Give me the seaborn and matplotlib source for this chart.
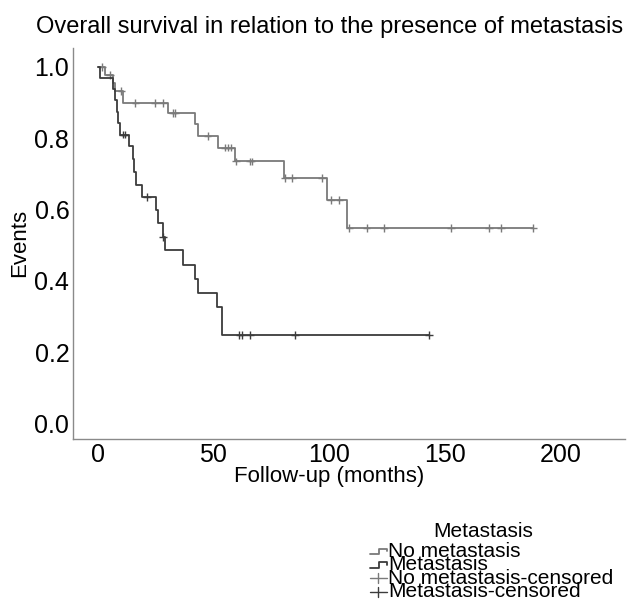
import numpy as np
import pandas as pd
import matplotlib
matplotlib.use("Agg")
import matplotlib.pyplot as plt
import seaborn as sns
from matplotlib.lines import Line2D

# Kaplan-Meier steps (months, survival)
nomet_time = [0, 3.3, 6.5, 7.3, 10.9, 30.2, 42.0, 43.5, 51.8, 59.3, 80.6, 98.9, 107.8, 188.2]
nomet_surv = [1.0, 0.978, 0.956, 0.933, 0.899, 0.870, 0.839, 0.807, 0.774, 0.735, 0.688, 0.627, 0.549, 0.549]

met_time = [0, 1.1, 6.4, 7.5, 8.3, 8.9, 9.6, 13.7, 15.1, 15.8, 16.5, 19.0, 25.2, 26.2,
            28.1, 29.2, 37.0, 42.0, 43.2, 51.7, 53.9, 143.2]
met_surv = [1.0, 0.969, 0.937, 0.906, 0.874, 0.843, 0.810, 0.777, 0.741, 0.705, 0.669, 0.636,
            0.599, 0.562, 0.524, 0.487, 0.445, 0.406, 0.367, 0.326, 0.249, 0.249]

# censored observations
nomet_cens_time = [1.9, 5.4, 10.2, 16.3, 24.8, 28.2, 32.4, 33.3, 47.5, 55.0, 56.2, 57.6,
                   59.7, 65.8, 66.5, 80.8, 84.0, 96.9, 100.8, 104.4, 108.7, 116.2, 123.7,
                   152.6, 169.0, 174.2, 188.2]
nomet_cens_surv = [1.0, 0.978, 0.933, 0.899, 0.899, 0.899, 0.870, 0.870, 0.807, 0.774, 0.774, 0.774,
                   0.735, 0.735, 0.735, 0.688, 0.688, 0.688, 0.627, 0.627, 0.549, 0.549, 0.549,
                   0.549, 0.549, 0.549, 0.549]

met_cens_time = [10.8, 11.8, 21.4, 28.3, 61.2, 62.5, 65.8, 85.2, 143.2]
met_cens_surv = [0.810, 0.810, 0.636, 0.524, 0.249, 0.249, 0.249, 0.249, 0.249]

groups = ["No metastasis", "Metastasis"]
colors = {"No metastasis": "#7a7a7a", "Metastasis": "#3c3c3c"}
legend_labels = ["No metastasis", "Metastasis", "No metastasis-censored", "Metastasis-censored"]

curves = pd.concat([
    pd.DataFrame({"time": nomet_time, "surv": nomet_surv, "group": groups[0]}),
    pd.DataFrame({"time": met_time, "surv": met_surv, "group": groups[1]}),
])
cens = pd.concat([
    pd.DataFrame({"time": nomet_cens_time, "surv": nomet_cens_surv, "group": groups[0]}),
    pd.DataFrame({"time": met_cens_time, "surv": met_cens_surv, "group": groups[1]}),
])

sns.set_theme(style="white")
plt.rcParams["font.family"] = ["Liberation Sans", "DejaVu Sans"]
for key in ["text.color", "axes.labelcolor", "xtick.color", "ytick.color"]:
    plt.rcParams[key] = "black"

W, H = 627, 610
fig = plt.figure(figsize=(W / 100, H / 100), dpi=100)
ax = fig.add_axes([0.116, 0.2811, 0.8808, 0.6397])

sns.lineplot(data=curves, x="time", y="surv", hue="group", palette=colors,
             estimator=None, sort=False, drawstyle="steps-post", linewidth=1.3,
             legend=False, ax=ax)
sns.scatterplot(data=cens, x="time", y="surv", hue="group", palette=colors,
                marker="+", s=30, linewidth=1.0, legend=False, ax=ax)

ax.set_xlim(-10.8, 227.8)
ax.set_ylim(-0.0415, 1.052)
ax.set_xticks([0, 50, 100, 150, 200])
ax.set_yticks([0.0, 0.2, 0.4, 0.6, 0.8, 1.0])
ax.set_yticklabels(["0.0", "0.2", "0.4", "0.6", "0.8", "1.0"])
ax.tick_params(length=0, labelsize=18)
ax.tick_params(axis="y", pad=2.5)
ax.tick_params(axis="x", pad=3)

sns.despine(ax=ax)
for side in ["left", "bottom"]:
    ax.spines[side].set_color("#8a8a8a")
    ax.spines[side].set_linewidth(1.0)

ax.set_xlabel("Follow-up (months)", fontsize=16)
ax.set_ylabel("Events", fontsize=16)
ax.xaxis.set_label_coords(0.464, -0.071)
ax.yaxis.set_label_coords(-0.077, 0.5)

fig.text(0.5255, 1 - 33.3 / H, "Overall survival in relation to the presence of metastasis",
         ha="center", va="baseline", fontsize=17)


# legend drawn by hand, below the plot on the right
def fx(x):
    return x / W


def fy(y):
    return 1 - y / H


fig.text(fx(483), fy(531.5), "Metastasis", ha="center", va="center", fontsize=15)
row_y = [551.7, 565.0, 578.3, 591.6]
legend_colors = [colors["No metastasis"], colors["Metastasis"],
                 colors["No metastasis"], colors["Metastasis"]]
for i, (lab, col, yc) in enumerate(zip(legend_labels, legend_colors, row_y)):
    if i < 2:
        xs = [370, 379, 379, 387, 387]
        ys = [yc + 2.5, yc + 2.5, yc - 3, yc - 3, yc - 0.5]
        fig.add_artist(Line2D([fx(v) for v in xs], [fy(v) for v in ys], color=col,
                              lw=1.3, transform=fig.transFigure))
    else:
        fig.add_artist(Line2D([fx(370), fx(387)], [fy(yc), fy(yc)], color=col, lw=1.0,
                              transform=fig.transFigure))
        fig.add_artist(Line2D([fx(378.5), fx(378.5)], [fy(yc - 5), fy(yc + 5)], color=col,
                              lw=1.0, transform=fig.transFigure))
    fig.text(fx(388), fy(yc), lab, ha="left", va="center", fontsize=15)

fig.savefig("out.png", dpi=100)
